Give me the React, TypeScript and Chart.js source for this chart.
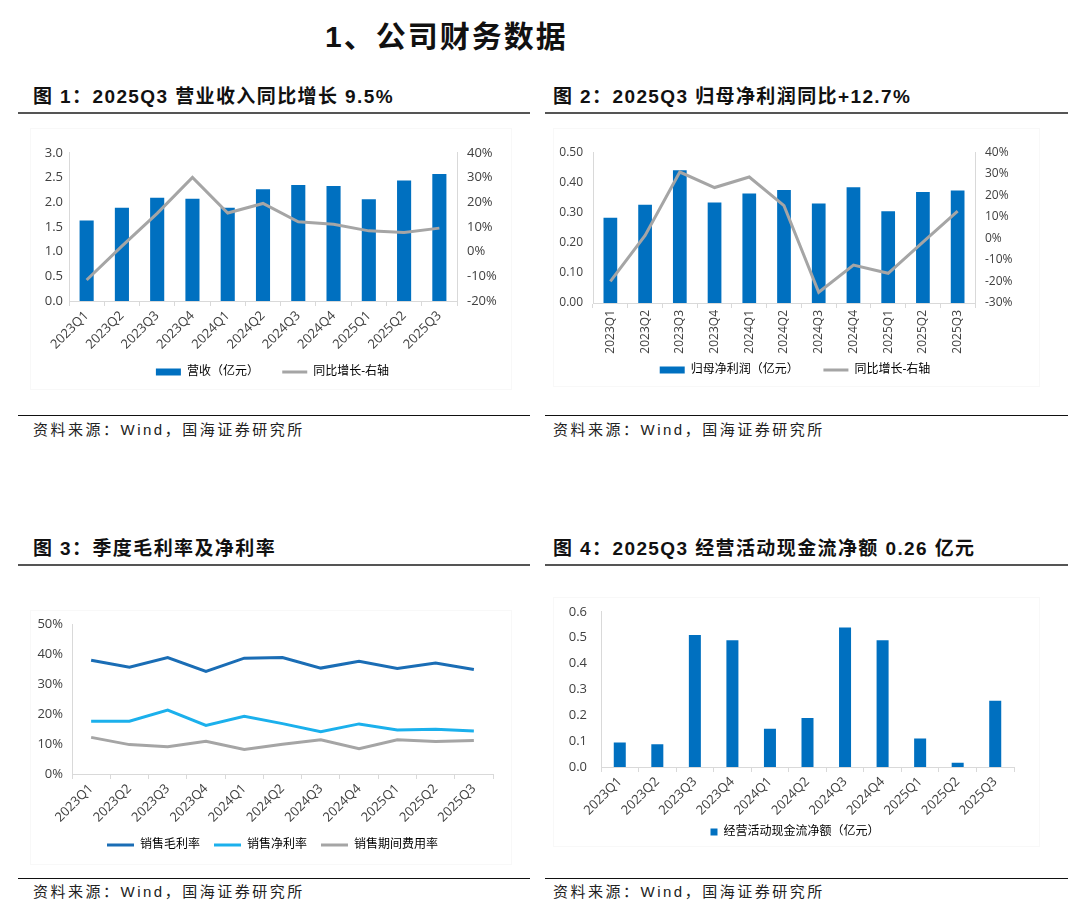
import React, { useEffect, useRef } from "react";
import { Chart, registerables } from "chart.js";

Chart.register(...registerables);

// ---------------- data ----------------
const categories = [
  "2023Q1", "2023Q2", "2023Q3", "2023Q4",
  "2024Q1", "2024Q2", "2024Q3", "2024Q4",
  "2025Q1", "2025Q2", "2025Q3",
];
const revenue = [1.63, 1.89, 2.09, 2.07, 1.89, 2.26, 2.35, 2.33, 2.06, 2.44, 2.57];
const revenueYoY = [-11.5, 2.2, 15.5, 30.0, 15.6, 19.5, 12.1, 11.1, 8.4, 7.7, 9.5];
const netProfit = [0.283, 0.326, 0.44, 0.333, 0.363, 0.375, 0.33, 0.384, 0.304, 0.368, 0.373];
const netProfitYoY = [-20.0, 1.4, 30.8, 23.6, 28.5, 15.2, -25.0, -12.4, -16.2, -1.7, 12.7];
const grossMargin = [37.9, 35.6, 38.8, 34.2, 38.6, 38.8, 35.3, 37.6, 35.2, 37.0, 34.8];
const netMargin = [17.6, 17.6, 21.3, 16.2, 19.2, 16.8, 14.1, 16.7, 14.7, 14.9, 14.3];
const expenseRate = [12.2, 9.8, 9.1, 10.9, 8.2, 9.9, 11.4, 8.4, 11.4, 10.8, 11.2];
const operatingCashFlow = [0.095, 0.088, 0.51, 0.49, 0.148, 0.189, 0.539, 0.49, 0.11, 0.016, 0.256];

const revenueAxis = [0, 3, 0.5];
const revenueYoYAxis = [-20, 40, 10];
const profitAxis = [0, 0.5, 0.1];
const profitYoYAxis = [-30, 40, 10];
const marginAxis = [0, 50, 10];
const cashAxis = [0, 0.6, 0.1];

const seriesNames = {
  revenue: "营收（亿元）",
  yoy: "同比增长-右轴",
  profit: "归母净利润（亿元）",
  gross: "销售毛利率",
  net: "销售净利率",
  expense: "销售期间费用率",
  cash: "经营活动现金流净额（亿元）",
};

// ---------------- styles ----------------
const BLUE = "#0070C0";
const GRAY = "#A5A5A5";
const DARK_BLUE = "#1A6DB5";
const LIGHT_BLUE = "#1BB0EC";
const AXIS = "#D9D9D9";
const TICK_FONT = "'Open Sans', 'Noto Sans CJK SC', sans-serif";
const LEGEND_FONT = "'Open Sans', 'Noto Sans CJK SC', sans-serif";
const HEAD_FONT = "'Liberation Sans', 'Noto Sans CJK SC', sans-serif";

Chart.defaults.font.family = TICK_FONT;
Chart.defaults.color = "#404040";

function xScale(height: number, rotation: number, size: number) {
  return {
    offset: true,
    grid: {
      display: true,
      offset: true,
      drawOnChartArea: false,
      drawTicks: true,
      tickLength: 5,
      color: AXIS,
    },
    border: { display: true, color: AXIS },
    ticks: {
      autoSkip: false,
      minRotation: rotation,
      maxRotation: rotation,
      padding: 2,
      font: { size },
      color: "#404040",
    },
    afterFit: (s: any) => {
      s.height = height;
    },
  };
}

function yScale(
  axis: number[],
  position: "left" | "right",
  width: number,
  fmt: (v: number) => string,
  size: number,
  padding: number
) {
  return {
    position,
    min: axis[0],
    max: axis[1],
    grid: { display: false, drawTicks: false },
    border: { display: true, color: AXIS },
    ticks: {
      stepSize: axis[2],
      padding,
      font: { size },
      color: "#404040",
      callback: (v: any) => fmt(Number(v)),
    },
    afterFit: (s: any) => {
      s.width = width;
    },
  };
}

// empty right-hand margin that still belongs to the chart, so the legend stays centred on the panel
function spacerScale(width: number) {
  return {
    position: "right" as const,
    display: true,
    grid: { display: false, drawTicks: false },
    border: { display: false },
    ticks: { display: false },
    afterFit: (s: any) => {
      s.width = width;
    },
  };
}

function legendOpts(padding: number, items: any[], point: boolean, pw = 25, bh = 7) {
  return {
    position: "bottom" as const,
    labels: {
      usePointStyle: point,
      pointStyleWidth: point ? pw : undefined,
      boxWidth: point ? pw : bh,
      boxHeight: bh,
      padding,
      color: "#333333",
      font: { size: 12, family: LEGEND_FONT },
      generateLabels: () => items,
    },
  };
}

// extra blank space after a legend entry, so items sit as far apart as in the source
const gap = (n: number) => " ".repeat(n);

function ChartBox(props: { left: number; top: number; width: number; height: number; build: () => any }) {
  const ref = useRef<HTMLCanvasElement>(null);
  useEffect(() => {
    const chart = new Chart(ref.current as HTMLCanvasElement, props.build());
    return () => chart.destroy();
  }, []);
  return (
    <div style={{ position: "absolute", left: props.left, top: props.top, width: props.width, height: props.height }}>
      <canvas ref={ref} width={props.width} height={props.height} style={{ display: "block", width: props.width, height: props.height }} />
    </div>
  );
}

// ---------------- chart configs ----------------
const chart1 = () => ({
  type: "bar",
  data: {
    labels: categories,
    datasets: [
      {
        type: "line",
        label: seriesNames.yoy,
        data: revenueYoY,
        yAxisID: "y1",
        borderColor: GRAY,
        borderWidth: 3,
        pointRadius: 0,
        tension: 0,
        order: 1,
      },
      {
        type: "bar",
        label: seriesNames.revenue,
        data: revenue,
        yAxisID: "y",
        backgroundColor: BLUE,
        borderWidth: 0,
        barPercentage: 0.4,
        categoryPercentage: 1,
        order: 2,
      },
    ],
  },
  options: {
    animation: false,
    responsive: false,
    layout: { padding: { top: 16, bottom: 2, left: 0, right: 0 } },
    plugins: {
      tooltip: { enabled: false },
      legend: legendOpts(
        14,
        [
          { text: seriesNames.revenue + gap(3), fillStyle: BLUE, strokeStyle: BLUE, lineWidth: 0, pointStyle: "rect", hidden: false, datasetIndex: 1 },
          { text: seriesNames.yoy, fillStyle: GRAY, strokeStyle: GRAY, lineWidth: 3, pointStyle: "line", hidden: false, datasetIndex: 0 },
        ],
        true
      ),
    },
    scales: {
      x: xScale(51, 45, 13),
      y: yScale(revenueAxis, "left", 49, (v) => v.toFixed(1), 13, 6),
      y1: yScale(revenueYoYAxis, "right", 68, (v) => `${Math.round(v)}%`, 13, 10),
    },
  },
});

const chart2 = () => ({
  type: "bar",
  data: {
    labels: categories,
    datasets: [
      {
        type: "line",
        label: seriesNames.yoy,
        data: netProfitYoY,
        yAxisID: "y1",
        borderColor: GRAY,
        borderWidth: 3,
        pointRadius: 0,
        tension: 0,
        order: 1,
      },
      {
        type: "bar",
        label: seriesNames.profit,
        data: netProfit,
        yAxisID: "y",
        backgroundColor: BLUE,
        borderWidth: 0,
        barPercentage: 0.395,
        categoryPercentage: 1,
        order: 2,
      },
    ],
  },
  options: {
    animation: false,
    responsive: false,
    layout: { padding: { top: 16, bottom: 4, left: 0, right: 0 } },
    plugins: {
      tooltip: { enabled: false },
      legend: legendOpts(
        6,
        [
          { text: seriesNames.profit + gap(6), fillStyle: BLUE, strokeStyle: BLUE, lineWidth: 0, pointStyle: "rect", hidden: false, datasetIndex: 1 },
          { text: seriesNames.yoy, fillStyle: GRAY, strokeStyle: GRAY, lineWidth: 3, pointStyle: "line", hidden: false, datasetIndex: 0 },
        ],
        true
      ),
    },
    scales: {
      x: xScale(55, 90, 12),
      y: yScale(profitAxis, "left", 53, (v) => v.toFixed(2), 12, 10),
      y1: yScale(profitYoYAxis, "right", 75, (v) => `${Math.round(v)}%`, 12, 10),
    },
  },
});

const chart3 = () => ({
  type: "line",
  data: {
    labels: categories,
    datasets: [
      { label: seriesNames.gross, data: grossMargin, borderColor: DARK_BLUE, borderWidth: 3, pointRadius: 0, tension: 0 },
      { label: seriesNames.net, data: netMargin, borderColor: LIGHT_BLUE, borderWidth: 3, pointRadius: 0, tension: 0 },
      { label: seriesNames.expense, data: expenseRate, borderColor: GRAY, borderWidth: 3, pointRadius: 0, tension: 0 },
    ],
  },
  options: {
    animation: false,
    responsive: false,
    layout: { padding: { top: 24, bottom: 4, left: 0, right: 0 } },
    plugins: {
      tooltip: { enabled: false },
      legend: legendOpts(
        14,
        [
          { text: seriesNames.gross, fillStyle: DARK_BLUE, strokeStyle: DARK_BLUE, lineWidth: 3, pointStyle: "line", hidden: false, datasetIndex: 0 },
          { text: seriesNames.net, fillStyle: LIGHT_BLUE, strokeStyle: LIGHT_BLUE, lineWidth: 3, pointStyle: "line", hidden: false, datasetIndex: 1 },
          { text: seriesNames.expense, fillStyle: GRAY, strokeStyle: GRAY, lineWidth: 3, pointStyle: "line", hidden: false, datasetIndex: 2 },
        ],
        true,
        27,
        7
      ),
    },
    scales: {
      x: xScale(51, 45, 13),
      y: yScale(marginAxis, "left", 52, (v) => `${Math.round(v)}%`, 13, 9),
      spacer: spacerScale(32),
    },
  },
});

const chart4 = () => ({
  type: "bar",
  data: {
    labels: categories,
    datasets: [
      {
        label: seriesNames.cash,
        data: operatingCashFlow,
        backgroundColor: BLUE,
        borderWidth: 0,
        barPercentage: 0.32,
        categoryPercentage: 1,
      },
    ],
  },
  options: {
    animation: false,
    responsive: false,
    layout: { padding: { top: 19, bottom: 4, left: 0, right: 0 } },
    plugins: {
      tooltip: { enabled: false },
      legend: legendOpts(
        8,
        [{ text: seriesNames.cash, fillStyle: BLUE, strokeStyle: BLUE, lineWidth: 0, hidden: false, datasetIndex: 0 }],
        false,
        7,
        7
      ),
    },
    scales: {
      x: xScale(51, 45, 13),
      y: yScale(cashAxis, "left", 61, (v) => v.toFixed(1), 13, 14),
      spacer: spacerScale(36),
    },
  },
});

// ---------------- layout ----------------
const headStyle: React.CSSProperties = {
  position: "absolute",
  fontFamily: HEAD_FONT,
  fontWeight: 700,
  fontSize: 19,
  lineHeight: "20px",
  letterSpacing: "1.4px",
  color: "#111",
  whiteSpace: "nowrap",
};
const sourceStyle: React.CSSProperties = {
  position: "absolute",
  fontFamily: HEAD_FONT,
  fontSize: 15,
  lineHeight: "16px",
  letterSpacing: "2.5px",
  color: "#222",
  whiteSpace: "nowrap",
};

function Rule(props: { left: number; top: number; width: number; h?: number; color?: string }) {
  return (
    <div
      style={{
        position: "absolute",
        left: props.left,
        top: props.top,
        width: props.width,
        height: props.h ?? 1,
        background: props.color ?? "#111",
      }}
    />
  );
}

function Frame(props: { left: number; top: number; width: number; height: number }) {
  return (
    <div
      style={{
        position: "absolute",
        left: props.left,
        top: props.top,
        width: props.width,
        height: props.height,
        border: "1px solid #F8F8F8",
        boxSizing: "border-box",
      }}
    />
  );
}

const SOURCE = "资料来源：Wind，国海证券研究所";

export default function App() {
  return (
    <div style={{ position: "absolute", left: 0, top: 0, width: 1071, height: 921, background: "#fff", overflow: "hidden" }}>
      <div
        style={{
          position: "absolute",
          left: 325,
          top: 20,
          fontFamily: HEAD_FONT,
          fontWeight: 700,
          fontSize: 30,
          lineHeight: "34px",
          letterSpacing: "2px",
          color: "#111",
          whiteSpace: "nowrap",
        }}
      >
        1、公司财务数据
      </div>

      <div style={{ ...headStyle, left: 33, top: 87 }}>图 1：2025Q3 营业收入同比增长 9.5%</div>
      <div style={{ ...headStyle, left: 553, top: 87 }}>图 2：2025Q3 归母净利润同比+12.7%</div>
      <Rule left={18} top={112} width={512} h={2} color="#555" />
      <Rule left={545} top={112} width={523} h={2} color="#555" />

      <Frame left={30} top={128} width={482} height={262} />
      <Frame left={553} top={128} width={487} height={259} />
      <ChartBox left={20} top={135} width={505} height={255} build={chart1} />
      <ChartBox left={540} top={135} width={510} height={255} build={chart2} />

      <Rule left={18} top={415} width={512} />
      <Rule left={545} top={415} width={523} />
      <div style={{ ...sourceStyle, left: 33, top: 422 }}>{SOURCE}</div>
      <div style={{ ...sourceStyle, left: 553, top: 422 }}>{SOURCE}</div>

      <div style={{ ...headStyle, left: 33, top: 539 }}>图 3：季度毛利率及净利率</div>
      <div style={{ ...headStyle, left: 553, top: 539 }}>图 4：2025Q3 经营活动现金流净额 0.26 亿元</div>
      <Rule left={18} top={564} width={512} h={2} color="#555" />
      <Rule left={545} top={564} width={523} h={2} color="#555" />

      <Frame left={30} top={610} width={482} height={255} />
      <Frame left={553} top={597} width={487} height={250} />
      <ChartBox left={20} top={600} width={505} height={265} build={chart3} />
      <ChartBox left={540} top={590} width={510} height={262} build={chart4} />

      <Rule left={18} top={878} width={512} />
      <Rule left={545} top={878} width={523} />
      <div style={{ ...sourceStyle, left: 33, top: 884 }}>{SOURCE}</div>
      <div style={{ ...sourceStyle, left: 553, top: 884 }}>{SOURCE}</div>
    </div>
  );
}
